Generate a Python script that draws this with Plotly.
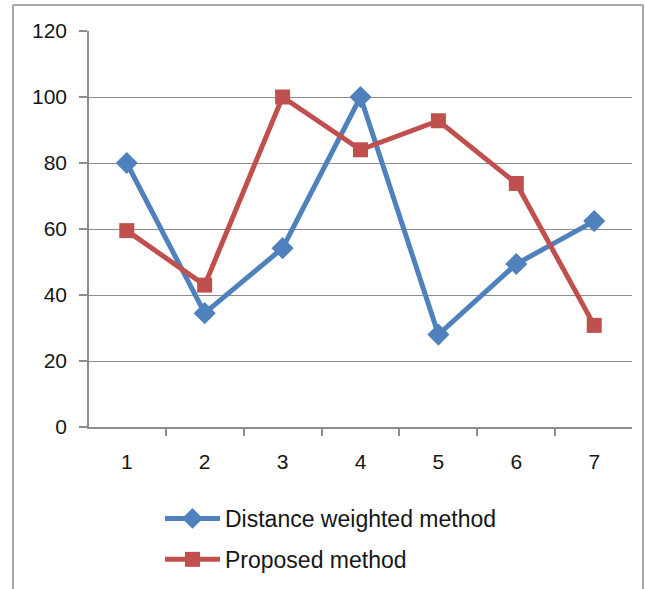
import plotly.graph_objects as go

categories = ["1", "2", "3", "4", "5", "6", "7"]
distance_weighted = [80, 34.5, 54.2, 100, 28, 49.4, 62.4]
proposed = [59.5, 43, 100, 84, 92.8, 73.8, 30.8]
y_ticks = [0, 20, 40, 60, 80, 100, 120]

BLUE = "#4F81BD"
RED = "#C0504D"
GRID = "#8C8C8C"
FONT = "Liberation Sans, Arial, sans-serif"
TEXT = "#161616"

fig = go.Figure()
fig.add_trace(go.Scatter(
    x=categories, y=distance_weighted, name="Distance weighted method",
    mode="lines+markers", legendgroup="a",
    line=dict(color=BLUE, width=5),
    marker=dict(symbol="diamond", size=17, color=BLUE),
))
fig.add_trace(go.Scatter(
    x=categories, y=proposed, name="Proposed method",
    mode="lines+markers", legendgroup="b",
    line=dict(color=RED, width=5),
    marker=dict(symbol="square", size=15, color=RED),
))

L, R, T, B = 89, 14, 31, 162
W, H = 646, 589
pw, ph = W - L - R, H - T - B

fig.update_layout(
    width=W, height=H,
    margin=dict(l=L, r=R, t=T, b=B, pad=0, autoexpand=False),
    paper_bgcolor="white", plot_bgcolor="white",
    font=dict(family=FONT, size=20, color=TEXT),
    showlegend=True,
    legend=dict(
        x=(160 - L) / pw, y=(T + ph - 497) / ph,
        xanchor="left", yanchor="top",
        traceorder="grouped", tracegroupgap=8,
        itemwidth=55,
        font=dict(family=FONT, size=23, color=TEXT),
        bgcolor="rgba(0,0,0,0)",
    ),
    xaxis=dict(
        type="category", tickson="boundaries",
        ticks="outside", ticklen=7, tickcolor=GRID, tickwidth=1.5,
        showline=True, linecolor=GRID, linewidth=1.5,
        showgrid=False, zeroline=False, automargin=False,
        ticklabelstandoff=15,
        tickfont=dict(family=FONT, size=21, color=TEXT),
    ),
    yaxis=dict(
        range=[0, 120], tickvals=y_ticks,
        ticks="outside", ticklen=8, tickcolor=GRID, tickwidth=1.5,
        showline=True, linecolor=GRID, linewidth=1.5,
        showgrid=True, gridcolor=GRID, gridwidth=1.2,
        zeroline=False, automargin=False,
        ticklabelstandoff=8,
        tickfont=dict(family=FONT, size=21, color=TEXT),
    ),
)

# outer chart frame (open at the bottom edge of the page)
fx0, fx1 = (13 - L) / pw, (643 - L) / pw
fy_top = (T + ph - 5) / ph
fy_bot = (T + ph - 600) / ph
for x0, y0, x1, y1 in [(fx0, fy_bot, fx0, fy_top), (fx0, fy_top, fx1, fy_top), (fx1, fy_top, fx1, fy_bot)]:
    fig.add_shape(type="line", xref="paper", yref="paper",
                  x0=x0, y0=y0, x1=x1, y1=y1,
                  line=dict(color="#A6A6A6", width=2))

fig.write_html("out.html")
